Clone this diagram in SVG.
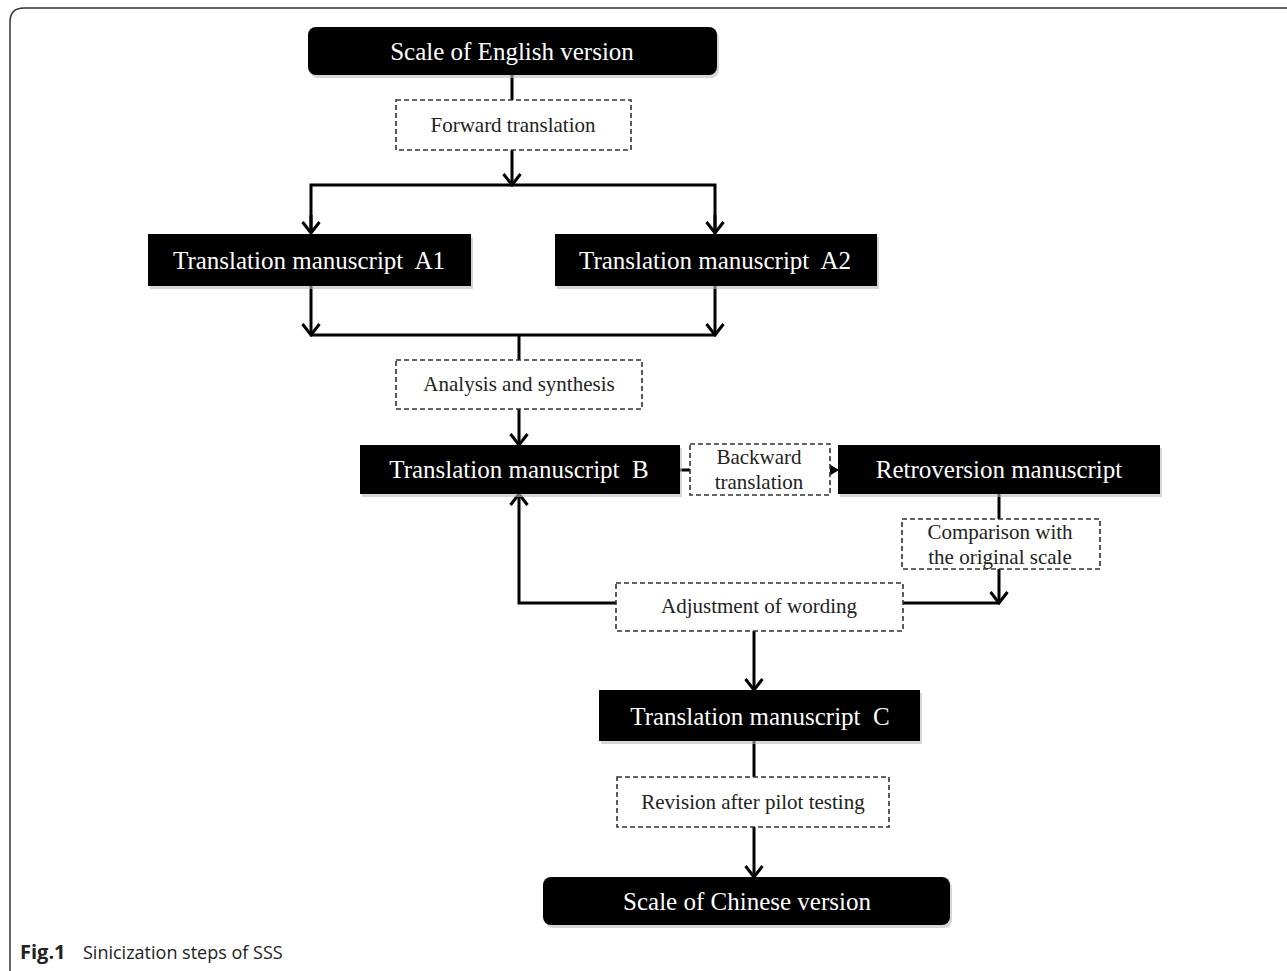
<svg xmlns="http://www.w3.org/2000/svg" width="1287" height="971" viewBox="0 0 1287 971">
<defs>
<style>
.solid{fill:#000;}
.shadow{fill:#bbb;opacity:0.6;}
.dash{fill:#fff;stroke:#333;stroke-width:1.6;stroke-dasharray:5,3;}
.wt{fill:#fff;font-family:"Liberation Serif",serif;font-size:25px;text-anchor:middle;}
.bt{fill:#222;font-family:"Liberation Serif",serif;font-size:21px;text-anchor:middle;}
.ln{fill:none;stroke:#000;stroke-width:3;}
</style>
<marker id="arr" markerUnits="userSpaceOnUse" viewBox="0 0 20 20" refX="18" refY="10" markerWidth="20" markerHeight="20" orient="auto">
<path d="M7,1.5 L18,10 L7,18.5" fill="none" stroke="#000" stroke-width="3"/>
</marker>
<marker id="tri" markerUnits="userSpaceOnUse" viewBox="0 0 10 12" refX="9" refY="6" markerWidth="10" markerHeight="12" orient="auto">
<path d="M0,0 L10,6 L0,12 Z" fill="#000"/>
</marker>
</defs>
<rect width="1287" height="971" fill="#fff"/>
<path d="M10,971 L10,22 Q10,8 24,8 L1287,8" fill="none" stroke="#333" stroke-width="1.5"/>

<g id="connectors">
<path class="ln" d="M512,75 L512,100"/>
<path class="ln" d="M512,150 L512,185" marker-end="url(#arr)"/>
<path class="ln" d="M311,233 L311,185 L715,185 L715,233"/>
<path class="ln" d="M311,215 L311,233" marker-end="url(#arr)"/>
<path class="ln" d="M715,215 L715,233" marker-end="url(#arr)"/>
<path class="ln" d="M311,286 L311,335" marker-end="url(#arr)"/>
<path class="ln" d="M715,286 L715,335" marker-end="url(#arr)"/>
<path class="ln" d="M311,335 L715,335"/>
<path class="ln" d="M519,335 L519,360"/>
<path class="ln" d="M519,409 L519,445" marker-end="url(#arr)"/>
<path class="ln" d="M680,470 L690,470"/>
<path class="ln" d="M830,470 L838,470" marker-end="url(#tri)" style="stroke-width:2"/>
<path class="ln" d="M999,494 L999,519"/>
<path class="ln" d="M999,569 L999,603" marker-end="url(#arr)"/>
<path class="ln" d="M903,603 L999,603"/>
<path class="ln" d="M616,603 L519,603 L519,494" marker-end="url(#arr)"/>
<path class="ln" d="M754,631 L754,690" marker-end="url(#arr)"/>
<path class="ln" d="M754,741 L754,777"/>
<path class="ln" d="M754,827 L754,877" marker-end="url(#arr)"/>
</g>

<g id="n-english">
<rect class="shadow" x="310" y="30" width="409" height="48" rx="8"/>
<rect class="solid" x="308" y="27" width="409" height="48" rx="8"/>
<text class="wt" x="512" y="60">Scale of English version</text>
</g>
<g id="n-forward">
<rect class="dash" x="396" y="100" width="235" height="50"/>
<text class="bt" x="513" y="132">Forward translation</text>
</g>
<g id="n-a1">
<rect class="shadow" x="150" y="237" width="323" height="52"/>
<rect class="solid" x="148" y="234" width="323" height="52"/>
<text class="wt" x="309" y="269">Translation manuscript&#160; A1</text>
</g>
<g id="n-a2">
<rect class="shadow" x="557" y="237" width="322" height="52"/>
<rect class="solid" x="555" y="234" width="322" height="52"/>
<text class="wt" x="715" y="269">Translation manuscript&#160; A2</text>
</g>
<g id="n-analysis">
<rect class="dash" x="396" y="360" width="246" height="49"/>
<text class="bt" x="519" y="391">Analysis and synthesis</text>
</g>
<g id="n-b">
<rect class="shadow" x="362" y="448" width="320" height="49"/>
<rect class="solid" x="360" y="445" width="320" height="49"/>
<text class="wt" x="519" y="478">Translation manuscript&#160; B</text>
</g>
<g id="n-backward">
<rect class="dash" x="690" y="444" width="140" height="51"/>
<text class="bt" x="759" y="464">Backward</text>
<text class="bt" x="759" y="489">translation</text>
</g>
<g id="n-retro">
<rect class="shadow" x="840" y="448" width="322" height="49"/>
<rect class="solid" x="838" y="445" width="322" height="49"/>
<text class="wt" x="999" y="478">Retroversion manuscript</text>
</g>
<g id="n-compare">
<rect class="dash" x="902" y="519" width="198" height="50"/>
<text class="bt" x="1000" y="539">Comparison with</text>
<text class="bt" x="1000" y="564">the original scale</text>
</g>
<g id="n-adjust">
<rect class="dash" x="616" y="583" width="287" height="48"/>
<text class="bt" x="759" y="613">Adjustment of wording</text>
</g>
<g id="n-c">
<rect class="shadow" x="601" y="693" width="321" height="51"/>
<rect class="solid" x="599" y="690" width="321" height="51"/>
<text class="wt" x="760" y="725">Translation manuscript&#160; C</text>
</g>
<g id="n-revision">
<rect class="dash" x="617" y="777" width="272" height="50"/>
<text class="bt" x="753" y="809">Revision after pilot testing</text>
</g>
<g id="n-chinese">
<rect class="shadow" x="545" y="880" width="407" height="48" rx="8"/>
<rect class="solid" x="543" y="877" width="407" height="48" rx="8"/>
<text class="wt" x="747" y="910">Scale of Chinese version</text>
</g>
<g id="caption" font-family="'Open Sans','Noto Sans',sans-serif" fill="#222">
<text x="20" y="959" font-size="20" font-weight="bold">Fig.1</text>
<text x="83" y="959" font-size="18">Sinicization steps of SSS</text>
</g>
</svg>
